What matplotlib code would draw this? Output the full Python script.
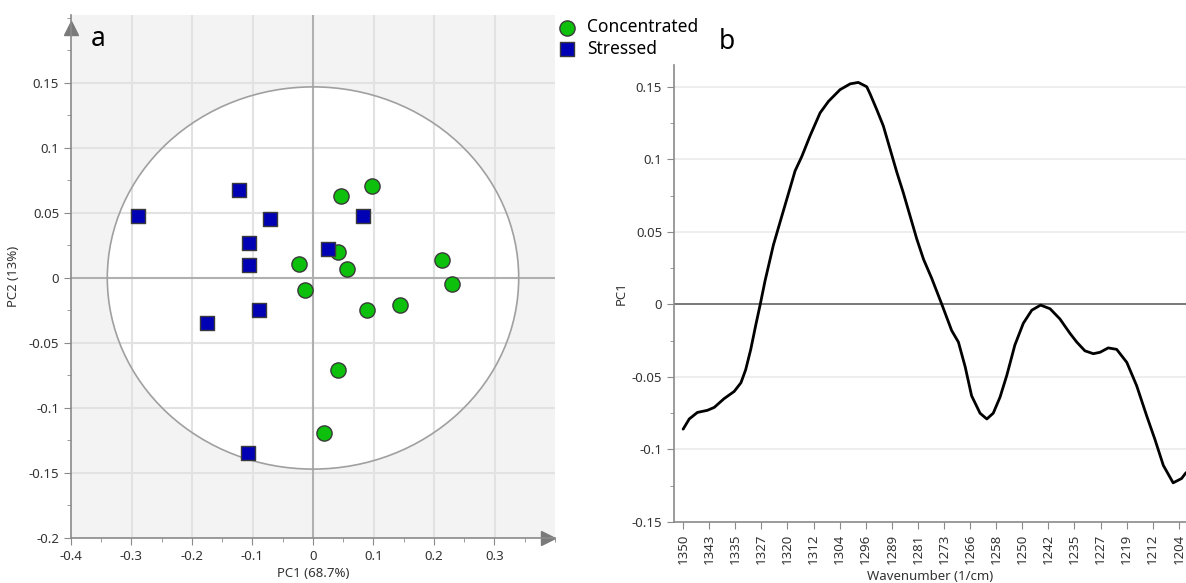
import numpy as np
import matplotlib.pyplot as plt
from matplotlib.patches import Ellipse
from matplotlib.ticker import MultipleLocator, FuncFormatter

plt.rcParams["font.family"] = ["Noto Sans", "DejaVu Sans"]

# PCA scores
conc_pc1 = [0.047, 0.098, 0.042, 0.056, -0.023, -0.013, 0.214, 0.229, 0.089, 0.143, 0.041, 0.018]
conc_pc2 = [0.063, 0.071, 0.020, 0.007, 0.011, -0.0095, 0.0136, -0.005, -0.025, -0.021, -0.071, -0.119]
stress_pc1 = [-0.289, -0.122, -0.071, -0.106, -0.106, -0.089, -0.175, 0.082, 0.024, -0.107]
stress_pc2 = [0.048, 0.068, 0.045, 0.027, 0.010, -0.025, -0.035, 0.048, 0.022, -0.135]

# Hotelling T2 ellipse half-widths
ell_pc1 = 0.340
ell_pc2 = 0.147

# PC1 loadings
wavenumber = [1350.0, 1348.2, 1345.8, 1342.8, 1340.8, 1337.9, 1334.9, 1332.9, 1331.5, 1330.0,
              1328.5, 1327.2, 1325.8, 1323.3, 1320.8, 1318.4, 1316.9, 1314.9, 1312.5, 1309.5,
              1307.0, 1303.6, 1300.6, 1298.2, 1295.7, 1294.7, 1292.7, 1290.8, 1288.8, 1286.8,
              1284.9, 1282.9, 1280.9, 1278.9, 1276.5, 1273.5, 1270.6, 1268.6, 1266.6, 1264.7,
              1262.2, 1260.2, 1258.3, 1256.3, 1254.3, 1251.9, 1249.4, 1246.9, 1244.3, 1241.5,
              1238.6, 1235.6, 1233.6, 1231.2, 1228.7, 1226.7, 1224.3, 1221.8, 1218.8, 1215.9,
              1212.9, 1210.5, 1208.0, 1205.1, 1202.6, 1201.3]
loading_pc1 = [-0.086, -0.079, -0.0745, -0.073, -0.071, -0.065, -0.060, -0.054, -0.045, -0.031,
               -0.014, 0.000, 0.016, 0.041, 0.061, 0.080, 0.092, 0.102, 0.116, 0.132,
               0.140, 0.148, 0.152, 0.153, 0.150, 0.145, 0.134, 0.123, 0.107, 0.091,
               0.077, 0.061, 0.045, 0.031, 0.018, 0.000, -0.018, -0.026, -0.043, -0.063,
               -0.075, -0.079, -0.075, -0.064, -0.049, -0.028, -0.013, -0.004, -0.0005, -0.003,
               -0.010, -0.020, -0.026, -0.032, -0.034, -0.033, -0.030, -0.031, -0.040, -0.056,
               -0.077, -0.093, -0.111, -0.123, -0.120, -0.116]
wn_labels = ["1350", "1343", "1335", "1327", "1320", "1312", "1304", "1296", "1289", "1281",
             "1273", "1266", "1258", "1250", "1242", "1235", "1227", "1219", "1212", "1204"]

TXT = "#333333"
AX = "#8a8a8a"


def fmt(v, pos):
    v = round(v, 4)
    return "0" if v == 0 else "%g" % v


fig = plt.figure(figsize=(11.86, 5.83), dpi=100)

# ---- a: scores ----
ax = fig.add_axes([71 / 1186, 45 / 583, 484 / 1186, 523 / 583])
ax.set_facecolor("#f3f3f3")
ax.set_xlim(-0.4, 0.4)
ax.set_ylim(-0.2, 0.2023)

ax.add_patch(Ellipse((0, 0), 2 * ell_pc1, 2 * ell_pc2, facecolor="white",
                     edgecolor="none", zorder=0.5))
for x in np.arange(-0.3, 0.35, 0.1):
    if abs(x) > 1e-9:
        ax.axvline(x, color="#e2e2e2", lw=1.5, zorder=1)
for y in np.arange(-0.15, 0.2, 0.05):
    if abs(y) > 1e-9:
        ax.axhline(y, color="#e2e2e2", lw=1.5, zorder=1)
ax.axvline(0, color="#b0b0b0", lw=1.5, zorder=1.2)
ax.axhline(0, color="#b0b0b0", lw=1.5, zorder=1.2)
ax.add_patch(Ellipse((0, 0), 2 * ell_pc1, 2 * ell_pc2, facecolor="none",
                     edgecolor="#a0a0a0", lw=1.2, zorder=1.5))

ax.scatter(conc_pc1, conc_pc2, s=120, marker="o", color="#0cc00c",
           edgecolor="#3a3a3a", linewidth=1.0, zorder=3, label="Concentrated")
ax.scatter(stress_pc1, stress_pc2, s=115, marker="s", color="#0000b4",
           edgecolor="#3a3a3a", linewidth=1.0, zorder=3, label="Stressed")

for side in ["top", "right"]:
    ax.spines[side].set_visible(False)
for side in ["left", "bottom"]:
    ax.spines[side].set_color(AX)
    ax.spines[side].set_linewidth(1.2)
# axis arrows, tips at the axis ends
ax.plot(0, 0.975, marker="^", markersize=10, color="#7a7a7a", transform=ax.transAxes, clip_on=False)
ax.plot(0.985, 0, marker=">", markersize=10, color="#7a7a7a", transform=ax.transAxes, clip_on=False)

ax.set_xticks(np.arange(-0.4, 0.35, 0.1))
ax.set_yticks(np.arange(-0.2, 0.16, 0.05))
ax.xaxis.set_minor_locator(MultipleLocator(0.05))
ax.yaxis.set_minor_locator(MultipleLocator(0.025))
ax.xaxis.set_major_formatter(FuncFormatter(fmt))
ax.yaxis.set_major_formatter(FuncFormatter(fmt))
ax.tick_params(which="both", color=AX, labelcolor=TXT, labelsize=9.5)
ax.tick_params(which="major", length=5)
ax.tick_params(which="minor", length=3)
ax.set_xlabel("PC1 (68.7%)", fontsize=9.5, color=TXT, labelpad=3)
ax.set_ylabel("PC2 (13%)", fontsize=9.5, color=TXT, labelpad=6)
ax.text(0.04, 0.955, "a", transform=ax.transAxes, fontsize=19, va="center", color="black")

fig.legend(loc="upper left", bbox_to_anchor=(544 / 1186, 1 - 6 / 583), frameon=False,
           fontsize=12.5, handletextpad=0.6, labelspacing=0.2, borderpad=0.2,
           handlelength=1.2)

# ---- b: PC1 loadings ----
bx = fig.add_axes([674 / 1186, 61 / 583, 512 / 1186, 457 / 583])
bx.set_xlim(1352.7, 1201.3)
bx.set_ylim(-0.15, 0.165)
for y in np.arange(-0.1, 0.2, 0.05):
    if abs(y) > 1e-9:
        bx.axhline(y, color="#ebebeb", lw=1.2, zorder=1)
bx.axhline(0, color="#6e6e6e", lw=1.3, zorder=1.2)
bx.plot(wavenumber, loading_pc1, color="black", lw=2.0, zorder=3,
        solid_joinstyle="round", solid_capstyle="round")

for side in ["top", "right"]:
    bx.spines[side].set_visible(False)
for side in ["left", "bottom"]:
    bx.spines[side].set_color(AX)
    bx.spines[side].set_linewidth(1.2)

bx.yaxis.set_major_locator(MultipleLocator(0.05))
bx.yaxis.set_minor_locator(MultipleLocator(0.025))
bx.yaxis.set_major_formatter(FuncFormatter(fmt))
bx.set_xticks(1350 - 7.714 * np.arange(len(wn_labels)))
bx.set_xticklabels(wn_labels, rotation=90)
bx.tick_params(which="both", color=AX, labelcolor=TXT, labelsize=9.5)
bx.tick_params(which="major", length=5)
bx.tick_params(which="minor", length=3)
bx.set_xlabel("Wavenumber (1/cm)", fontsize=9.5, color=TXT, labelpad=4)
bx.set_ylabel("PC1", fontsize=9.5, color=TXT, labelpad=3)
fig.text(727 / 1186, 1 - 42 / 583, "b", fontsize=19, va="center", ha="center", color="black")

fig.savefig("out.png", dpi=100)
